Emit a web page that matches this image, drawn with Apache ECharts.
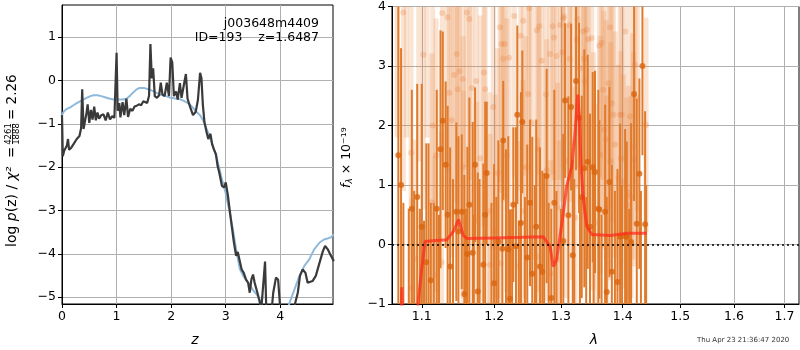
<!DOCTYPE html>
<html><head><meta charset="utf-8">
<script src="https://cdn.jsdelivr.net/npm/echarts@6/dist/echarts.min.js"></script>
<style>html,body{margin:0;padding:0;background:#fff}#c{width:800px;height:350px}</style>
</head><body><div id="c"></div>
<script>
// ---------- Left panel: log p(z) ----------
const zTicks = [0, 1, 2, 3, 4];
const pzTicks = [-5, -4, -3, -2, -1, 0, 1];
const zBlack = [0.00,0.015,0.04,0.06,0.09,0.11,0.13,0.17,0.22,0.27,0.32,0.35,0.37,0.395,0.42,0.45,0.47,0.50,0.53,0.56,0.59,0.62,0.65,0.68,0.72,0.76,0.80,0.84,0.88,0.92,0.96,0.985,1.00,1.02,1.05,1.07,1.11,1.14,1.18,1.21,1.25,1.29,1.33,1.37,1.41,1.45,1.49,1.52,1.56,1.595,1.62,1.645,1.67,1.70,1.74,1.78,1.81,1.84,1.88,1.92,1.96,1.99,2.02,2.05,2.09,2.12,2.16,2.19,2.23,2.27,2.30,2.35,2.40,2.45,2.49,2.53,2.555,2.58,2.61,2.65,2.68,2.72,2.75,2.78,2.82,2.85,2.88,2.93,2.97,3.00,3.04,3.07,3.11,3.15,3.19,3.22,3.25,3.29,3.33,3.37,3.41,3.44,3.47,3.50,3.53,3.58,3.62,3.65,3.68,3.72,3.745,3.78,3.82,3.87,3.92,3.96,4.00,4.05,4.12,4.19,4.26,4.32,4.36,4.41,4.46,4.50,4.59,4.65,4.72,4.78,4.82,4.87,4.93,4.98];
const pzBlack = [-0.80,-1.75,-1.62,-1.66,-1.50,-1.35,-1.60,-1.55,-1.45,-1.35,-1.28,-1.10,-0.20,-1.12,-0.95,-0.74,-0.55,-0.98,-0.68,-0.90,-0.60,-0.92,-0.74,-0.88,-0.80,-0.78,-0.92,-0.74,-0.90,-0.82,-0.86,-0.85,0.64,-0.70,-0.52,-0.85,-0.50,-0.80,-0.42,-0.84,-0.65,-0.70,-0.60,-0.58,-0.55,-0.57,-0.48,-0.45,-0.52,-0.35,0.84,0.05,0.28,-0.36,-0.40,-0.34,-0.05,-0.32,-0.36,-0.05,-0.36,0.53,0.42,-0.36,-0.25,-0.44,-0.06,-0.40,-0.12,0.15,-0.42,-0.62,-0.80,-0.72,-0.45,0.18,0.05,-0.55,-0.96,-1.20,-1.35,-1.23,-1.47,-1.58,-1.70,-1.97,-2.12,-2.43,-2.47,-2.35,-2.66,-2.97,-3.36,-3.74,-4.05,-3.96,-3.95,-4.36,-4.44,-4.59,-4.67,-4.90,-4.59,-4.48,-4.67,-4.90,-5.10,-5.30,-4.82,-4.18,-5.40,-5.90,-5.60,-4.90,-4.55,-4.60,-5.30,-5.90,-6.00,-5.80,-5.20,-4.90,-4.51,-4.36,-4.44,-4.67,-4.63,-4.51,-4.20,-3.94,-3.82,-3.90,-4.05,-4.17];
const zBlue = [0,0.03,0.08,0.15,0.21,0.27,0.33,0.39,0.45,0.52,0.58,0.65,0.72,0.80,0.88,0.95,1.05,1.12,1.18,1.24,1.30,1.36,1.42,1.50,1.58,1.66,1.74,1.82,1.90,1.97,2.05,2.12,2.18,2.25,2.33,2.40,2.46,2.53,2.59,2.65,2.70,2.75,2.80,2.84,2.88,2.93,3.00,3.04,3.08,3.14,3.20,3.26,3.32,3.41,3.50,3.59,3.65,3.72,3.80,3.90,4.00,4.08,4.17,4.26,4.35,4.44,4.53,4.62,4.72,4.80,4.88,4.93,4.98];
const pzBlue = [-0.80,-0.72,-0.66,-0.62,-0.57,-0.52,-0.48,-0.44,-0.40,-0.36,-0.34,-0.34,-0.36,-0.39,-0.42,-0.44,-0.44,-0.44,-0.42,-0.36,-0.28,-0.21,-0.17,-0.17,-0.20,-0.24,-0.29,-0.33,-0.36,-0.39,-0.41,-0.42,-0.44,-0.48,-0.54,-0.63,-0.72,-0.80,-0.93,-1.12,-1.28,-1.45,-1.65,-1.81,-2.02,-2.28,-2.60,-2.85,-3.08,-3.51,-3.97,-4.36,-4.51,-4.67,-4.84,-4.98,-5.13,-5.40,-5.70,-5.90,-5.80,-5.50,-5.13,-4.82,-4.51,-4.28,-4.13,-3.90,-3.74,-3.67,-3.64,-3.62,-3.55];

// ---------- Right panel: spectrum ----------
const lamTicks = [1.1, 1.2, 1.3, 1.4, 1.5, 1.6, 1.7];
const fTicks = [-1, 0, 1, 2, 3, 4];
const lamModel = [1.0725,1.0739,1.0753,1.0925,1.0953,1.1000,1.1044,1.1100,1.1336,1.1426,1.1495,1.1564,1.1615,1.2000,1.2400,1.2728,1.2831,1.2882,1.2934,1.3037,1.3090,1.3170,1.3222,1.3264,1.3290,1.3318,1.3354,1.3409,1.3490,1.3790,1.4069,1.4411];
const fModel = [-1.6,-0.72,-1.6,-1.6,-0.97,-0.40,0.05,0.06,0.08,0.22,0.42,0.15,0.10,0.11,0.12,0.13,-0.03,-0.37,-0.25,0.53,0.98,1.31,1.87,2.52,2.15,1.31,0.76,0.31,0.17,0.15,0.19,0.19];
const lamSolid = [1.0695,1.0730,1.0870,1.0940,1.1000,1.1060,1.1120,1.1200,1.1250,1.1281,1.1320,1.1347,1.1381,1.1466,1.1495,1.1541,1.1577,1.1619,1.1647,1.1694,1.1727,1.1765,1.1844,1.1870,1.1892,1.1997,1.2059,1.2117,1.2130,1.2204,1.2229,1.2278,1.2317,1.2337,1.2391,1.2411,1.2485,1.2526,1.2560,1.2620,1.2677,1.2712,1.2779,1.2850,1.2897,1.3037,1.3065,1.3117,1.3159,1.3186,1.3238,1.3286,1.3329,1.3370,1.3425,1.3462,1.3506,1.3543,1.3597,1.3613,1.3708,1.3735,1.3779,1.3819,1.3913,1.3957,1.4041,1.4069,1.4142,1.4193,1.4239,1.4284,1.4336,1.4382,
  1.0760,1.0830,1.0900,1.0975,1.1030,1.1090,1.1160,1.1230,1.1420,1.1600,1.1710,1.1790,1.1960,1.2030,1.2170,1.2260,1.2360,1.2450,1.2600,1.2740,1.2810,1.2930,1.3000,1.3210,1.3300,1.3400,1.3520,1.3650,1.3870,1.3990,1.4110,1.4310,1.4400];
const fSolid = [1.5,1.0,0.6,0.8,0.3,-0.3,-0.6,0.6,1.6,2.08,1.34,0.50,-0.37,0.55,0.22,0.55,-0.83,-0.16,0.67,-0.14,1.34,-0.79,-0.34,0.5,1.20,-0.65,0.05,-0.07,1.75,-0.08,-0.91,0.67,-0.03,2.18,0.36,2.06,-0.22,0.70,-0.49,0.3,-0.37,-0.46,1.15,-0.9,0.70,0.06,2.42,0.49,2.31,-0.18,2.75,2.13,0.80,1.28,1.39,0.30,1.30,1.22,0.60,0.59,0.55,-0.80,1.05,-0.46,-0.63,0.13,0.14,0.13,0.04,2.53,0.35,1.19,3.0,0.34,
  -1.5,-1.2,-1.6,-1.4,-1.3,-1.2,-1.5,-1.1,-1.3,-1.4,-1.2,-1.5,-1.3,-1.6,-1.2,-1.4,-1.3,-1.5,-1.2,-1.6,-1.3,-1.4,-1.2,-1.5,-1.2,-1.4,-1.3,-1.5,-1.2,-1.4,-1.3,-1.6,-1.2];
const eSolid = [3.0,2.3,2.0,1.9,2.4,2.0,1.3,2.0,2.0,1.5,1.4,1.83,2.0,1.5,1.6,1.3,2.0,1.8,1.8,2.2,1.3,2.0,1.7,1.9,1.2,2.0,1.7,1.8,1.0,1.9,1.5,1.3,2.0,1.5,2.2,1.2,1.9,1.4,2.3,1.8,2.0,1.7,1.8,1.5,1.9,1.8,1.3,2.0,1.4,1.6,1.5,1.6,1.7,2.0,1.8,1.9,1.6,1.7,2.0,1.5,1.8,1.6,1.6,1.8,1.9,1.9,1.8,1.6,2.0,1.8,2.1,1.6,1.5,1.9,
  2.2,1.8,2.5,2.0,1.7,2.9,2.2,1.6,2.4,2.0,1.7,2.6,2.0,2.4,2.8,2.0,1.7,2.3,2.2,2.8,2.0,2.3,1.8,2.6,2.0,2.2,2.5,2.0,2.1,2.4,1.9,2.5,2.2];
const lamFaded = [1.0680,1.0760,1.0800,1.0860,1.0869,1.0916,1.0960,1.1021,1.1070,1.1133,1.1146,1.1176,1.1265,1.1275,1.1344,1.1371,1.1403,1.1435,1.1472,1.1486,1.1508,1.1556,1.1564,1.1611,1.1647,1.1681,1.1742,1.1751,1.1853,1.1870,1.1929,1.1940,1.1986,1.2011,1.2083,1.2093,1.2106,1.2131,1.2153,1.2214,1.2293,1.2361,1.2387,1.2421,1.2425,1.2499,1.2515,1.2550,1.2627,1.2640,1.2667,1.2703,1.2769,1.2831,1.2840,1.2872,1.2893,1.2934,1.2950,1.2974,1.2986,1.3022,1.3037,1.3048,1.3133,1.3143,1.3222,1.3249,1.3259,1.3302,1.3354,1.3365,1.3381,1.3409,1.3435,1.3490,1.3516,1.3543,1.3613,1.3625,1.3652,1.3679,1.3690,1.3724,1.3735,1.3762,1.3790,1.3800,1.3819,1.3846,1.3874,1.3929,1.3957,1.3970,1.3985,1.4013,1.4041,1.4069,1.4097,1.4125,1.4142,1.4171,1.4182,1.4210,1.4249,1.4398,
  1.1190,1.1560,1.1800,1.2050,1.2180,1.2460,1.2650,1.2780,1.3080,1.3180];
const fFaded = [4.6,3.9,4.3,1.54,-0.73,-0.24,4.4,3.19,4.8,0.71,2.00,-0.52,-0.30,3.89,3.82,2.55,2.09,2.85,3.20,2.61,2.91,2.78,0.39,3.90,3.79,2.63,2.75,0.40,2.89,2.61,0.56,-0.34,2.31,0.22,3.65,-0.32,3.37,3.12,3.37,3.14,3.84,-0.36,3.51,0.56,3.76,2.53,3.97,2.05,3.60,-0.20,3.67,3.09,2.52,3.20,-0.49,3.67,3.48,3.17,0.62,-0.25,3.69,3.23,3.80,3.83,3.69,3.12,0.45,3.44,3.79,2.96,3.58,3.12,2.74,3.61,3.45,3.47,1.23,0.36,3.34,1.51,3.39,2.60,1.93,1.77,0.60,2.71,3.65,1.40,2.37,2.18,1.68,1.12,2.18,1.45,2.18,1.06,3.58,0.67,0.87,2.15,0.80,1.65,1.43,3.02,2.46,2.01,
  1.5,1.3,1.45,1.2,1.5,1.3,1.6,1.25,1.4,1.7];
const eFaded = [2.8,3.0,2.5,2.6,1.5,2.0,3.0,2.6,3.0,2.5,2.5,2.0,2.2,2.5,2.6,2.4,2.3,2.5,2.5,2.4,2.6,2.5,2.2,2.6,2.7,2.5,2.4,2.0,2.6,2.3,2.0,2.2,2.4,2.3,2.6,2.0,2.5,2.4,2.6,2.5,2.7,2.1,2.6,2.2,2.6,2.4,2.8,2.3,2.6,2.0,2.5,2.5,2.4,2.6,1.9,2.5,2.4,2.5,2.1,2.0,2.6,2.5,2.5,2.6,2.5,2.4,2.2,2.5,2.5,2.3,2.4,2.3,2.3,2.3,2.2,2.3,2.0,2.0,2.2,2.0,2.3,2.1,2.0,2.0,1.9,2.1,2.3,2.0,2.0,2.0,1.9,1.9,2.0,1.8,2.0,1.8,2.2,1.8,1.8,1.9,1.7,1.9,1.8,2.0,1.9,1.8,
  2.3,2.2,2.4,2.1,2.3,2.2,2.4,2.2,2.3,2.3];

const FONT = 'DejaVu Sans';
const LAM_MIN = 1.0614, LAM_MAX = 1.730;
const F_MIN = -1, F_MAX = 4;
const lg = v => Math.log10(v);
const minus = v => String(v).replace('-', '\u2212');

function errBars(lams, fs, es, color, width) {
  return {
    type: 'custom', xAxisIndex: 1, yAxisIndex: 1, silent: true, animation: false,
    data: lams.map((l, i) => [lg(l), fs[i], es[i]]),
    encode: {x: 0, y: 1},
    renderItem: (params, api) => {
      const x = api.value(0), y = api.value(1), e = api.value(2);
      const lo = Math.max(y - e, F_MIN), hi = Math.min(y + e, F_MAX);
      if (hi <= lo) return null;
      const p1 = api.coord([x, lo]), p2 = api.coord([x, hi]);
      return {type: 'line', shape: {x1: p1[0], y1: p1[1], x2: p2[0], y2: p2[1]},
        style: {stroke: color, lineWidth: width}};
    }
  };
}

const axisCommon = {
  axisLine: {show: true, onZero: false, lineStyle: {color: '#000', width: 1}},
  axisTick: {show: true, length: 4, lineStyle: {color: '#000', width: 1}},
  splitLine: {show: true, lineStyle: {color: '#b0b0b0', width: 1}},
  axisLabel: {color: '#000', fontSize: 12.5, fontFamily: FONT, margin: 6}
};

const txt = (x, y, text, extra) => ({type: 'text', x: x, y: y, z: 100,
  style: Object.assign({text: text, align: 'left', verticalAlign: 'middle', fontSize: 12.5, fontFamily: FONT, fill: '#000'}, extra || {})});

const option = {
  animation: false,
  backgroundColor: '#fff',
  grid: [
    {left: 62, top: 5, width: 271, height: 299, show: true, borderColor: '#000', borderWidth: 1, backgroundColor: 'transparent'},
    {left: 392, top: 6, width: 407, height: 298, show: true, borderColor: '#000', borderWidth: 1, backgroundColor: 'transparent'}
  ],
  xAxis: [
    Object.assign({}, axisCommon, {type: 'value', gridIndex: 0, min: 0, max: 4.965,
      axisTick: Object.assign({}, axisCommon.axisTick, {customValues: zTicks}),
      axisLabel: Object.assign({}, axisCommon.axisLabel, {customValues: zTicks, formatter: v => minus(v)})}),
    Object.assign({}, axisCommon, {type: 'value', gridIndex: 1, min: lg(LAM_MIN), max: lg(LAM_MAX),
      axisTick: Object.assign({}, axisCommon.axisTick, {customValues: lamTicks.map(lg)}),
      axisLabel: Object.assign({}, axisCommon.axisLabel, {customValues: lamTicks.map(lg), formatter: v => Math.pow(10, v).toFixed(1)})})
  ],
  yAxis: [
    Object.assign({}, axisCommon, {type: 'value', gridIndex: 0, min: -5.16, max: 1.744,
      axisTick: Object.assign({}, axisCommon.axisTick, {customValues: pzTicks}),
      axisLabel: Object.assign({}, axisCommon.axisLabel, {customValues: pzTicks, formatter: v => minus(v)})}),
    Object.assign({}, axisCommon, {type: 'value', gridIndex: 1, min: F_MIN, max: F_MAX, interval: 1,
      axisLabel: Object.assign({}, axisCommon.axisLabel, {formatter: v => minus(v)})})
  ],
  series: [
    {type: 'line', xAxisIndex: 0, yAxisIndex: 0, data: zBlue.map((z, i) => [z, pzBlue[i]]),
      showSymbol: false, symbol: 'none', silent: true, clip: true,
      lineStyle: {color: '#8fb9db', width: 2}},
    {type: 'line', xAxisIndex: 0, yAxisIndex: 0, data: zBlack.map((z, i) => [z, pzBlack[i]]),
      showSymbol: false, symbol: 'none', silent: true, clip: true,
      lineStyle: {color: '#3a3a3a', width: 2.2}},
    errBars(lamFaded, fFaded, eFaded, 'rgba(232,130,60,0.22)', 5),
    {type: 'scatter', xAxisIndex: 1, yAxisIndex: 1, silent: true, symbolSize: 6, clip: true,
      data: lamFaded.map((l, i) => [lg(l), fFaded[i]]),
      itemStyle: {color: 'rgba(232,125,55,0.32)'}},
    errBars(lamSolid, fSolid, eSolid, '#e07b2c', 2),
    {type: 'scatter', xAxisIndex: 1, yAxisIndex: 1, silent: true, symbolSize: 6, clip: true,
      data: lamSolid.map((l, i) => [lg(l), fSolid[i]]),
      itemStyle: {color: '#d9650f'}},
    {type: 'line', xAxisIndex: 1, yAxisIndex: 1, data: lamModel.map((l, i) => [lg(l), fModel[i]]),
      showSymbol: false, symbol: 'none', silent: true, clip: true,
      lineStyle: {color: 'rgba(255,40,25,0.72)', width: 3},
      markLine: {silent: true, symbol: 'none', label: {show: false},
        lineStyle: {color: '#000', type: [2, 3], width: 1.5},
        data: [{yAxis: 0}]}}
  ],
  graphic: [
    txt(319, 24, 'j003648m4409', {align: 'right'}),
    txt(319, 37.5, 'ID=193    z=1.6487', {align: 'right'}),
    txt(195, 340, 'z', {align: 'center', fontSize: 14, fontStyle: 'italic'}),
    txt(594, 340, '\u03bb', {align: 'center', fontSize: 14, fontStyle: 'italic'}),
    txt(697, 340, 'Thu Apr 23 21:36:47 2020', {fontSize: 7, fill: '#333'}),
    {type: 'group', x: 12, y: 247, rotation: Math.PI / 2, z: 100, children: [
      txt(0, 0, 'log {i|p}(z) / {i|\u03c7\u00b2}', {fontSize: 14,
        rich: {i: {fontStyle: 'italic', fontSize: 14, fontFamily: FONT, fill: '#000'}}}),
      txt(89, 0, '=', {fontSize: 13.5}),
      txt(113, -3.5, '4261', {align: 'center', fontSize: 8.5}),
      {type: 'line', z: 100, shape: {x1: 103, y1: 0.5, x2: 123, y2: 0.5}, style: {stroke: '#000', lineWidth: 0.8}},
      txt(113, 4.5, '1888', {align: 'center', fontSize: 8.5}),
      txt(127, 0, '= 2.26', {fontSize: 13.5})
    ]},
    {type: 'group', x: 347, y: 188, rotation: Math.PI / 2, z: 100, children: [
      txt(0, 0, '{i|f}{sub|\u03bb} \u00d7 10\u207b\u00b9\u2079', {
        rich: {i: {fontStyle: 'italic', fontSize: 12.5, fontFamily: FONT, fill: '#000'},
               sub: {fontSize: 9, fontStyle: 'italic', fontFamily: FONT, fill: '#000', padding: [6, 0, 0, 0]}}})
    ]}
  ]
};

const chart = echarts.init(document.getElementById('c'), null, {renderer: 'canvas', width: 800, height: 350});
chart.setOption(option);
</script>
</body></html>
